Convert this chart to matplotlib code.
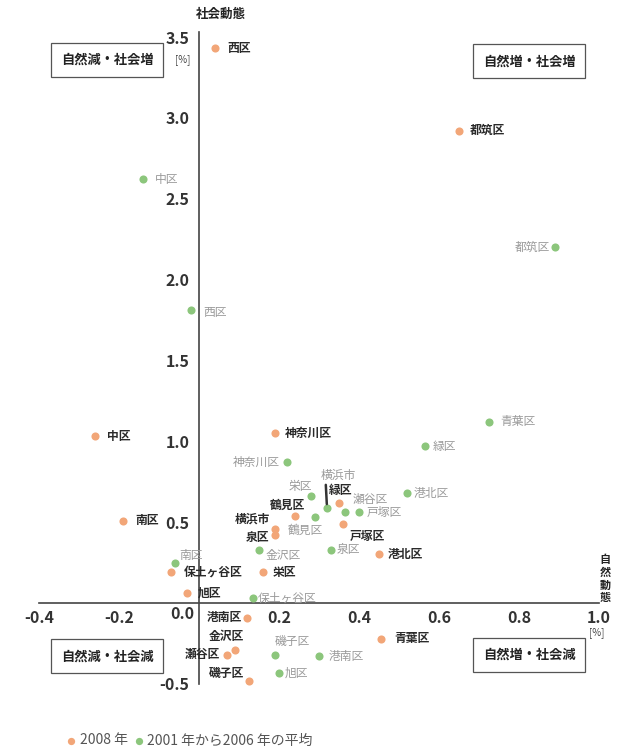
import matplotlib
matplotlib.use("Agg")
import matplotlib.pyplot as plt

plt.rcParams['font.family'] = ['Noto Sans CJK JP', 'DejaVu Sans']

# --- DATA ---
# natural change [%] (x), social change [%] (y)
wards_2008 = ['西区', '都筑区', '中区', '南区', '神奈川区', '緑区', '鶴見区', '横浜市', '泉区', '戸塚区',
              '港北区', '栄区', '保土ヶ谷区', '旭区', '港南区', '金沢区', '瀬谷区', '磯子区', '青葉区']
nat_2008 = [0.04, 0.65, -0.26, -0.19, 0.19, 0.35, 0.24, 0.19, 0.19, 0.36,
            0.45, 0.16, -0.07, -0.03, 0.12, 0.09, 0.07, 0.125, 0.455]
soc_2008 = [3.43, 2.92, 1.03, 0.51, 1.05, 0.62, 0.54, 0.46, 0.42, 0.49,
            0.30, 0.19, 0.19, 0.06, -0.09, -0.29, -0.32, -0.48, -0.22]

wards_avg = ['中区', '都筑区', '西区', '青葉区', '緑区', '神奈川区', '港北区', '栄区', '横浜市', '瀬谷区',
             '戸塚区', '鶴見区', '金沢区', '泉区', '南区', '保土ヶ谷区', '磯子区', '港南区', '旭区']
nat_avg = [-0.14, 0.89, -0.02, 0.725, 0.565, 0.22, 0.52, 0.28, 0.32, 0.365,
           0.40, 0.29, 0.15, 0.33, -0.06, 0.135, 0.19, 0.30, 0.20]
soc_avg = [2.62, 2.20, 1.81, 1.12, 0.97, 0.87, 0.68, 0.66, 0.59, 0.56,
           0.56, 0.53, 0.33, 0.33, 0.25, 0.03, -0.32, -0.33, -0.43]

x_ticks = [-0.4, -0.2, 0.2, 0.4, 0.6, 0.8, 1.0]
y_ticks = [-0.5, 0.5, 1.0, 1.5, 2.0, 2.5, 3.0, 3.5]

# label placement: (dx, dy in pixels, ha)
lab_2008 = {
    '西区': (12, 0, 'left'), '都筑区': (11, 0, 'left'), '中区': (12, 0, 'left'),
    '南区': (12, 0, 'left'), '神奈川区': (10, 0, 'left'), '緑区': (2, 12, 'center'),
    '鶴見区': (-8, 10, 'center'), '横浜市': (-5, 9, 'right'), '泉区': (-6, -2, 'right'),
    '戸塚区': (24, -13, 'center'), '港北区': (9, 0, 'left'), '栄区': (10, 0, 'left'),
    '保土ヶ谷区': (13, 0, 'left'), '旭区': (11, 0, 'left'), '港南区': (-5, 0, 'right'),
    '金沢区': (-9, 13, 'center'), '瀬谷区': (-7, 0, 'right'), '磯子区': (-5, 7, 'right'),
    '青葉区': (13, 0, 'left'),
}
lab_avg = {
    '中区': (12, 0, 'left'), '都筑区': (-5, 0, 'right'), '西区': (12, -2, 'left'),
    '青葉区': (11, 0, 'left'), '緑区': (8, 0, 'left'), '神奈川区': (-7, 0, 'right'),
    '港北区': (7, 0, 'left'), '栄区': (-11, 10, 'center'), '横浜市': (11, 32, 'center'),
    '瀬谷区': (25, 13, 'center'), '戸塚区': (8, 0, 'left'), '鶴見区': (-10, -13, 'center'),
    '金沢区': (7, -6, 'left'), '泉区': (6, 0, 'left'), '南区': (4, 7, 'left'),
    '保土ヶ谷区': (5, 0, 'left'), '磯子区': (17, 13, 'center'), '港南区': (10, 0, 'left'),
    '旭区': (6, -1, 'left'),
}

orange = '#f2a678'
green = '#8cc67c'

fig = plt.figure(figsize=(6.23, 7.54), dpi=100)
ax = fig.add_axes([0, 0, 1, 1])
ax.set_xlim(-0.4975, 1.06)
ax.set_ylim(-0.934, 3.729)

for s in ['top', 'right']:
    ax.spines[s].set_visible(False)
ax.spines['left'].set_position(('data', 0))
ax.spines['bottom'].set_position(('data', 0))
ax.spines['left'].set_bounds(-0.5, 3.53)
ax.spines['bottom'].set_bounds(-0.4, 1.0)
for s in ['left', 'bottom']:
    ax.spines[s].set_color('#444444')
    ax.spines[s].set_linewidth(1.2)

ax.set_xticks(x_ticks)
ax.set_xticklabels([f'{v:.1f}' for v in x_ticks])
ax.set_yticks(y_ticks)
ax.set_yticklabels([f'{v:.1f}' for v in y_ticks])
ax.tick_params(length=0, labelsize=11.5, labelcolor='#333333')
ax.tick_params(axis='x', pad=5)
ax.tick_params(axis='y', pad=7)
for lbl in ax.get_xticklabels() + ax.get_yticklabels():
    lbl.set_fontweight('semibold')
ax.text(-0.012, -0.02, '0.0', ha='right', va='top', fontsize=11.5, fontweight='semibold', color='#333333')

ax.scatter(nat_2008, soc_2008, s=34, color=orange, zorder=3, linewidths=0, label='2008 年')
ax.scatter(nat_avg, soc_avg, s=34, color=green, zorder=3, linewidths=0, label='2001 年から2006 年の平均')

for name, x, y in zip(wards_2008, nat_2008, soc_2008):
    dx, dy, ha = lab_2008[name]
    ax.annotate(name, (x, y), xytext=(dx, dy), textcoords='offset pixels', ha=ha, va='center',
                fontsize=8.5, fontweight='bold', color='#2a2a2a')

for name, x, y in zip(wards_avg, nat_avg, soc_avg):
    dx, dy, ha = lab_avg[name]
    arrow = None
    if name == '横浜市':
        arrow = dict(arrowstyle='-', color='#333333', lw=1.8, relpos=(0.15, 0.0), shrinkA=0, shrinkB=2.5)
    ax.annotate(name, (x, y), xytext=(dx, dy), textcoords='offset pixels', ha=ha, va='center',
                fontsize=8.5, color='#9a9a9a', arrowprops=arrow)

# axis titles
ax.text(0.055, 3.64, '社会動態', ha='center', va='center', fontsize=9, fontweight='bold', color='#222222')
ax.text(-0.04, 3.36, '[%]', ha='center', va='center', fontsize=7, color='#444444')
ax.text(0.995, -0.18, '[%]', ha='center', va='center', fontsize=7, color='#444444')
ax.text(1.015, 0.15, '自\n然\n動\n態', ha='center', va='center', fontsize=8, fontweight='bold',
        color='#222222', linespacing=0.95)

# quadrant boxes
box = dict(boxstyle='square,pad=0.75', facecolor='white', edgecolor='#555555', linewidth=0.9)
for text, x, y in [('自然減・社会増', -0.23, 3.36), ('自然増・社会増', 0.825, 3.35),
                   ('自然減・社会減', -0.23, -0.33), ('自然増・社会減', 0.825, -0.32)]:
    ax.text(x, y, text, ha='center', va='center', fontsize=9.5, fontweight='bold',
            color='#222222', bbox=box)

leg = ax.legend(loc='center left', bbox_to_anchor=(0.108, 0.018), bbox_transform=fig.transFigure,
                ncol=2, frameon=False, fontsize=10, handlelength=0.6, handletextpad=0.3,
                columnspacing=0.5, markerscale=0.9, borderaxespad=0, borderpad=0)
for t in leg.get_texts():
    t.set_color('#555555')

fig.savefig('out.png', dpi=100)
